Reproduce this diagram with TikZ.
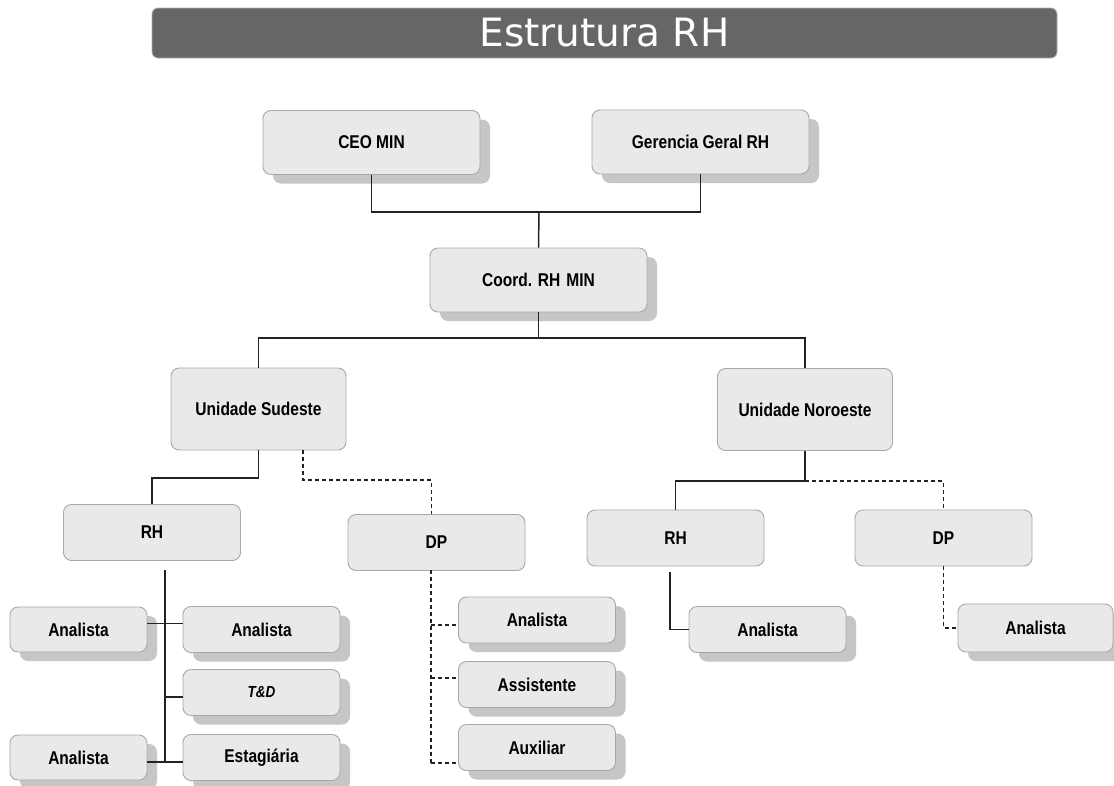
\documentclass[tikz,border=0pt]{standalone}
\usepackage{fontspec}
\setmainfont{DejaVu Sans}
\newfontfamily\boxfont[FakeStretch=0.84]{Liberation Sans}
\usetikzlibrary{shadows,calc}
\definecolor{boxfill}{HTML}{E9E9E9}
\definecolor{boxline}{HTML}{A8A8A8}
\definecolor{shadowc}{HTML}{C6C6C6}
\definecolor{titlebg}{HTML}{666666}
\definecolor{conn}{HTML}{222222}
\begin{document}
\begin{tikzpicture}[x=1pt,y=-1pt,
  box/.style={draw=boxline, line width=0.9pt, fill=boxfill, rounded corners=8pt,
    font={\boxfont\bfseries\fontsize{18.5}{20}\selectfont}, text=black, inner sep=0pt},
  shad/.style={drop shadow={shadow xshift=10pt, shadow yshift=-9pt, fill=shadowc, opacity=1}},
  topbox/.style={box, shad, minimum width=217pt, minimum height=64pt},
  unitbox/.style={box, minimum width=175pt, minimum height=82pt},
  subbox/.style={box, minimum width=177pt, minimum height=56pt},
  leafbox/.style={box, shad, minimum width=157pt, minimum height=46pt},
  smallleaf/.style={box, shad, minimum width=137pt, minimum height=45pt},
  link/.style={draw=conn, line width=1.5pt},
  dlink/.style={link, dash pattern=on 4pt off 3pt}]
\useasboundingbox (0,0) rectangle (1114,785);
\fill[white] (0,0) rectangle (1114,785);

% title
\node[draw=gray!60, line width=0.8pt, fill=titlebg, rounded corners=6pt,
  minimum width=905pt, minimum height=50pt, inner sep=0pt, text=white,
  font={\fontsize{39}{42}\selectfont}] (title) at (604.5,33) {Estrutura RH};

% top levels
\node[topbox] (ceo) at (371.5,142.5) {CEO MIN};
\node[topbox] (ger) at (700.5,142) {Gerencia Geral RH};
\node[topbox] (coord) at (538.5,280) {Coord. RH\,\,MIN};

\node[unitbox] (uns) at (258.5,409) {Unidade Sudeste};
\node[unitbox] (unn) at (805,409.5) {Unidade Noroeste};

\node[subbox] (rhl) at (152,532.5) {RH};
\node[subbox] (dpl) at (436.5,542.5) {DP};
\node[subbox] (rhr) at (675.5,538) {RH};
\node[subbox] (dpr) at (943.5,538) {DP};

% leaves
\node[smallleaf] (anl1) at (78.5,629.5) {Analista};
\node[leafbox] (anr1) at (261.5,629.5) {Analista};
\node[leafbox, font={\boxfont\bfseries\itshape\fontsize{16}{18}\selectfont}] (td) at (261.5,692.5) {T\&D};
\node[smallleaf] (anl2) at (78.5,757.5) {Analista};
\node[leafbox] (est) at (261.5,757.5) {Estagiária};

\node[leafbox] (dpan) at (537,620) {Analista};
\node[leafbox] (dpas) at (537,684.5) {Assistente};
\node[leafbox] (dpau) at (537,747.5) {Auxiliar};

\node[leafbox] (rhran) at (767.5,629.5) {Analista};
\node[leafbox, minimum width=155pt, minimum height=48pt] (dpran) at (1035.5,628) {Analista};

% junctions
\coordinate (j1) at (539,212);
\coordinate (j2) at (538.5,338);
\coordinate (j3) at (258.5,478);
\coordinate (j4) at (805,481);
\coordinate (d1) at (303,480);
\coordinate (vrh) at (165,570);
\coordinate (vrhend) at (165,762);
\coordinate (vtd) at (165,697);
\coordinate (vdp) at (431,570);
\coordinate (vdpend) at (431,763);
\coordinate (pan) at ([yshift=-5pt]dpan.west);
\coordinate (pas) at ([yshift=6.5pt]dpas.west);

% connectors
\draw[link] (ceo.south) |- (j1) -| (ger.south);
\draw[link] (j1) -- (coord.north);
\draw[link] (coord.south) -- (j2);
\draw[link] (j2) -| (uns.north);
\draw[link] (j2) -| (unn.north);
\draw[link] (uns.south) -- (j3) -| (rhl.north);
\draw[dlink] (uns.south -| d1) -- (d1) -| ([xshift=-5pt]dpl.north);
\draw[link] (unn.south) -- (j4) -| (rhr.north);
\draw[dlink] (j4) -| (dpr.north);

\draw[link] (vrh) -- (vrhend);
\draw[link] ([yshift=6pt]anl1.east) -- ([yshift=6pt]anr1.west);
\draw[link] (vtd) -- ([yshift=-4.5pt]td.west);
\draw[link] ([yshift=-4.5pt]anl2.east) -- ([yshift=-4.5pt]est.west);

\draw[dlink] (vdp) -- (vdpend);
\draw[dlink] (vdp |- pan) -- (pan);
\draw[dlink] (vdp |- pas) -- (pas);
\draw[dlink] (vdpend) -- (dpau.west |- vdpend);

\draw[link] ([xshift=-5.5pt,yshift=-6pt]rhr.south) |- (rhran.west);
\draw[dlink] (dpr.south) |- (dpran.west);
\end{tikzpicture}
\end{document}
